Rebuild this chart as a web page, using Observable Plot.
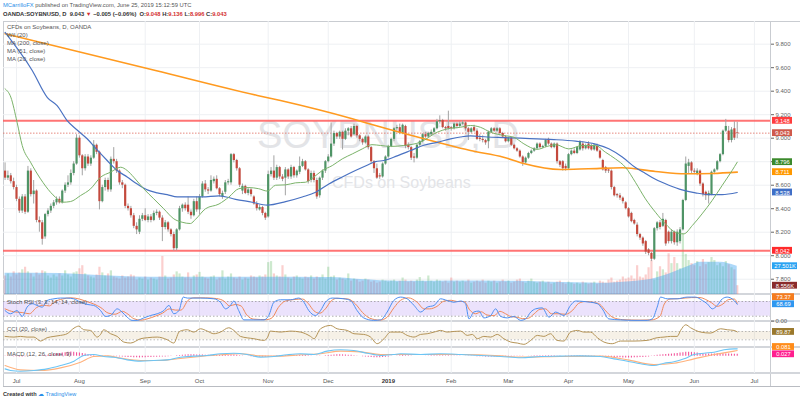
<!DOCTYPE html>
<html><head><meta charset="utf-8">
<script src="https://cdn.jsdelivr.net/npm/d3@7"></script>
<script src="https://cdn.jsdelivr.net/npm/@observablehq/plot@0.6"></script>
<style>
body{margin:0;background:#fff;font-family:"Liberation Sans",Arial,sans-serif;}
#wrap{position:relative;width:800px;height:403px;overflow:hidden;background:#fff;}
</style></head>
<body><div id="wrap"></div>
<script>
// ---------- DATA (bar index 0 = 26 Jun 2018 ... 256 = 25 Jun 2019) ----------
const open = [
8.72,8.66,8.68,8.63,8.58,8.48,8.38,8.50,8.37,8.72,
8.52,8.55,8.30,8.28,8.16,8.35,8.38,8.42,8.45,8.48,
8.45,8.55,8.60,8.62,8.70,8.78,9.00,8.85,8.74,8.84,
8.78,8.83,8.94,8.88,8.46,8.58,8.64,8.56,8.82,8.80,
8.72,8.62,8.60,8.42,8.40,8.34,8.25,8.20,8.31,8.34,
8.30,8.33,8.30,8.36,8.37,8.32,8.24,8.28,8.22,8.18,
8.06,8.22,8.40,8.43,8.43,8.37,8.34,8.46,8.39,8.50,
8.61,8.56,8.55,8.63,8.65,8.57,8.50,8.54,8.62,8.62,
8.86,8.81,8.74,8.55,8.59,8.53,8.56,8.50,8.44,8.39,
8.41,8.36,8.33,8.69,8.72,8.66,8.75,8.67,8.66,8.73,
8.67,8.75,8.68,8.71,8.76,8.80,8.73,8.64,8.70,8.64,
8.51,8.66,8.72,8.80,8.84,8.95,9.04,9.01,9.05,8.99,
9.06,9.08,9.03,9.10,9.02,8.99,8.96,9.01,8.92,8.80,
8.74,8.68,8.67,8.78,8.84,8.93,8.99,9.08,9.09,9.04,
9.10,8.94,8.92,8.84,8.83,8.94,8.97,9.03,9.01,9.03,
9.05,9.08,9.14,9.15,9.09,9.10,9.09,9.08,9.12,9.10,
9.12,9.13,9.08,9.05,9.09,9.06,9.00,8.99,8.98,8.97,
9.05,9.08,9.06,9.08,9.04,9.01,8.97,9.00,8.94,8.91,
8.89,8.84,8.79,8.83,8.87,8.89,8.91,8.95,8.92,8.93,
8.99,8.95,8.92,8.95,8.80,8.80,8.76,8.74,8.86,8.89,
8.87,8.90,8.95,8.91,8.95,8.93,8.90,8.93,8.89,8.81,
8.75,8.73,8.72,8.58,8.52,8.51,8.49,8.45,8.40,8.36,
8.30,8.26,8.18,8.15,8.12,8.05,8.02,7.97,8.23,8.28,
8.25,8.30,8.20,8.12,8.20,8.11,8.12,8.22,8.47,8.76,
8.79,8.72,8.70,8.72,8.61,8.54,8.51,8.52,8.71,8.73,
8.80,8.86,9.06,9.06,8.98,9.08,9.048];
const high = [
8.79,8.72,8.70,8.66,8.60,8.50,8.52,8.52,8.76,8.74,
8.64,8.56,8.33,8.30,8.36,8.40,8.44,8.47,8.50,8.50,
8.56,8.62,8.68,8.73,8.80,9.03,9.02,8.86,8.86,8.86,
8.85,8.98,8.95,8.89,8.60,8.66,8.66,8.84,8.92,8.82,
8.73,8.64,8.61,8.44,8.42,8.36,8.28,8.34,8.36,8.40,
8.35,8.35,8.38,8.39,8.38,8.34,8.30,8.29,8.23,8.20,
8.23,8.42,8.44,8.45,8.50,8.39,8.48,8.50,8.52,8.63,
8.64,8.58,8.68,8.67,8.68,8.58,8.55,8.64,8.65,8.87,
8.87,8.82,8.75,8.61,8.60,8.58,8.57,8.51,8.46,8.43,
8.42,8.37,8.72,8.75,8.85,8.77,8.76,8.69,8.75,8.74,
8.77,8.76,8.73,8.84,8.82,8.81,8.74,8.72,8.72,8.66,
8.67,8.73,8.81,8.86,9.13,9.06,9.05,9.06,9.06,9.08,
9.09,9.10,9.12,9.11,9.03,9.00,9.02,9.02,8.93,8.81,
8.78,8.70,8.79,8.85,8.94,9.00,9.09,9.11,9.12,9.12,
9.11,8.96,8.93,8.87,8.95,8.98,9.04,9.05,9.05,9.07,
9.09,9.16,9.19,9.16,9.10,9.23,9.10,9.13,9.13,9.14,
9.15,9.14,9.09,9.09,9.11,9.08,9.03,9.02,8.99,9.06,
9.09,9.09,9.09,9.09,9.05,9.02,9.01,9.01,8.95,8.92,
8.90,8.85,8.84,8.88,8.90,8.92,8.96,8.96,8.94,8.99,
9.00,8.96,8.96,8.96,8.81,8.81,8.78,8.87,8.90,8.91,
8.93,8.98,8.97,8.95,8.97,8.95,8.95,8.95,8.90,8.82,
8.76,8.74,8.73,8.59,8.53,8.53,8.50,8.46,8.41,8.37,
8.31,8.28,8.19,8.16,8.13,8.06,8.03,8.24,8.29,8.30,
8.36,8.31,8.21,8.22,8.21,8.22,8.24,8.48,8.84,8.82,
8.80,8.74,8.74,8.73,8.62,8.55,8.55,8.72,8.74,8.81,
8.87,9.07,9.16,9.10,9.09,9.14,9.136];
const low = [
8.64,8.64,8.61,8.56,8.46,8.36,8.36,8.35,8.36,8.50,
8.44,8.28,8.20,8.09,8.14,8.33,8.36,8.40,8.43,8.44,
8.44,8.53,8.58,8.60,8.68,8.77,8.83,8.68,8.72,8.76,
8.76,8.82,8.86,8.39,8.45,8.55,8.54,8.54,8.78,8.70,
8.60,8.57,8.40,8.38,8.32,8.23,8.18,8.18,8.29,8.29,
8.28,8.28,8.29,8.34,8.30,8.12,8.22,8.20,8.16,8.04,
8.04,8.21,8.37,8.38,8.35,8.31,8.33,8.37,8.35,8.49,
8.54,8.52,8.54,8.61,8.56,8.50,8.48,8.52,8.60,8.60,
8.79,8.72,8.58,8.52,8.52,8.51,8.50,8.43,8.38,8.38,
8.34,8.30,8.32,8.67,8.64,8.64,8.65,8.63,8.51,8.65,
8.65,8.66,8.66,8.69,8.75,8.72,8.61,8.62,8.62,8.48,
8.49,8.64,8.70,8.79,8.83,8.93,8.99,8.99,8.90,8.98,
9.02,9.00,9.02,9.00,8.97,8.94,8.95,8.90,8.78,8.70,
8.65,8.65,8.66,8.77,8.83,8.92,8.97,9.06,9.03,9.03,
8.91,8.90,8.81,8.79,8.82,8.93,8.96,9.00,9.00,9.02,
9.04,9.07,9.12,9.08,9.06,9.07,9.06,9.07,9.08,9.09,
9.11,9.06,8.98,9.04,9.05,8.98,8.97,8.96,8.94,8.91,
9.04,9.05,9.05,9.02,9.00,8.96,8.96,8.93,8.90,8.88,
8.83,8.76,8.78,8.82,8.86,8.88,8.90,8.91,8.91,8.92,
8.94,8.91,8.91,8.78,8.75,8.72,8.72,8.73,8.85,8.86,
8.86,8.89,8.89,8.90,8.90,8.89,8.89,8.88,8.82,8.72,
8.70,8.70,8.56,8.50,8.49,8.47,8.44,8.39,8.32,8.28,
8.26,8.16,8.13,8.08,8.01,8.00,7.95,7.96,8.21,8.22,
8.24,8.08,8.10,8.10,8.09,8.08,8.10,8.21,8.46,8.70,
8.70,8.69,8.68,8.59,8.50,8.47,8.44,8.51,8.69,8.72,
8.79,8.85,9.05,8.96,8.96,8.98,8.996];
const close = [
8.66,8.68,8.63,8.58,8.48,8.38,8.50,8.37,8.72,8.52,
8.55,8.30,8.28,8.14,8.35,8.38,8.42,8.45,8.48,8.45,
8.55,8.60,8.62,8.70,8.78,9.00,8.85,8.74,8.84,8.78,
8.83,8.94,8.88,8.46,8.58,8.64,8.56,8.82,8.80,8.72,
8.62,8.60,8.42,8.40,8.34,8.25,8.22,8.31,8.34,8.30,
8.33,8.30,8.36,8.37,8.32,8.24,8.28,8.22,8.18,8.06,
8.22,8.40,8.43,8.40,8.37,8.34,8.46,8.39,8.50,8.61,
8.56,8.55,8.64,8.65,8.57,8.52,8.53,8.62,8.63,8.86,
8.81,8.74,8.60,8.59,8.53,8.56,8.52,8.44,8.40,8.41,
8.36,8.32,8.69,8.72,8.66,8.75,8.67,8.65,8.73,8.67,
8.75,8.68,8.72,8.76,8.80,8.73,8.63,8.70,8.64,8.50,
8.66,8.72,8.80,8.84,8.95,9.04,9.01,9.05,8.99,9.06,
9.08,9.01,9.10,9.02,8.99,8.96,9.01,8.92,8.80,8.74,
8.66,8.67,8.78,8.84,8.93,8.99,9.08,9.09,9.04,9.11,
8.93,8.92,8.83,8.83,8.94,8.97,9.03,9.01,9.04,9.05,
9.08,9.14,9.15,9.09,9.08,9.08,9.08,9.12,9.10,9.12,
9.13,9.08,9.05,9.08,9.06,8.99,8.99,8.98,8.96,9.05,
9.08,9.06,9.08,9.04,9.01,8.97,9.00,8.94,8.91,8.89,
8.84,8.79,8.83,8.87,8.89,8.91,8.95,8.92,8.93,8.98,
8.95,8.92,8.95,8.80,8.77,8.74,8.74,8.86,8.89,8.87,
8.92,8.97,8.91,8.93,8.91,8.90,8.94,8.89,8.83,8.73,
8.72,8.72,8.58,8.51,8.51,8.49,8.46,8.40,8.33,8.29,
8.27,8.18,8.15,8.10,8.03,8.02,7.97,8.23,8.28,8.24,
8.31,8.10,8.12,8.20,8.11,8.20,8.22,8.47,8.78,8.79,
8.72,8.71,8.72,8.61,8.52,8.51,8.53,8.71,8.73,8.80,
8.86,9.06,9.10,8.98,9.07,9.00,9.043];
// volume in thousands
const volume = [
18,20,17,22,19,21,24,26.5,22,20,
17,21,19,23,22,18,16,19,17,20,
18,23,19,17,21,22,25,28,20,18,
17,16,19,26.5,21,18,20,23,17,16,
15,18,16,17,19,18,14,16,15,17,
14,16,15,14,17,37,18,15,16,19,
22,20,17,16,21,15,18,19,21.5,17,
16,15,17,18,14,16,23,15,17,20,
16,15,17,14,16,15,18,17,16,18,
17,19,31,32,20,18,17,28,19,16,
15,17,18,16,15,17,16,18,15,17,
16,19,15,26.5,17,18,14,16,15,14,
20,13,15,14,12,13,15,14,12,13,
11,12,14,13,12,13,14,12,13,16,
14,12,13,12,14,16.5,13,12,18,13,
12,14,13,12,13,11,16,12,13,12,
13,12,14,11,12,13,12,14,11,13,
12,13,11,12,14,12,13,11,12,14,
15,12,11,13,15,12,11,12,13,11,
12,10,11,12,13,11,10,12,11,10,
11,10,12,11,10,11,12,10,13,12,
11,14,16,12,13,14,17,15,16,18,
15,28,17,16,19,26,33,14,22,27,
24,21,39.6,30,36,30,25,59,39,33,
30,28,32,27,34,29,31,36,33,28,
30,27,32,29,26,24,8.556];
const macdHist = [
-0.004,-0.006,-0.006,-0.008,-0.008,-0.01,-0.01,-0.008,-0.005,-0.003,-0.002,0,0.002,
0.005,0.01,0.015,0.02,0.03,0.035,0.04,0.045,0.05,0.055,0.06,0.058,0.05,0.045,0.04,0.03,0.02,
0.012,0.006,0,-0.004,-0.006,-0.005,-0.003,0,-0.004,-0.008,-0.01,
-0.012,-0.015,-0.018,-0.02,-0.022,-0.024,-0.025,-0.024,-0.022,-0.02,-0.018,-0.016,-0.015,-0.013,-0.012,-0.01,-0.008,-0.005,
0,0.005,0.01,0.014,0.018,0.02,0.02,0.019,0.018,0.017,0.016,0.015,0.014,0.013,0.012,0.012,0.011,0.01,0.012,0.015,0.018,0.016,
0.012,0.008,0.004,0,-0.004,-0.007,-0.01,-0.012,-0.013,-0.014,-0.015,-0.01,
-0.004,0.002,0.006,0.008,0.01,0.01,0.011,0.012,0.012,0.011,0.01,0.01,0.009,
0.006,0.003,0,-0.003,-0.004,0,0.005,
0.01,0.015,0.018,0.02,0.02,0.019,0.017,0.015,0.012,0.008,
0.003,-0.002,-0.008,-0.012,-0.016,-0.02,-0.022,-0.023,-0.022,-0.02,-0.016,-0.012,-0.006,0,
0.004,0.008,0.01,0.008,0.005,0.002,0,-0.002,-0.002,0,0.002,0.004,0.006,0.007,
0.008,0.008,0.007,0.006,0.005,0.004,0.003,0.002,0.001,0,-0.002,-0.004,-0.005,-0.006,-0.007,
-0.008,-0.009,-0.01,-0.011,-0.011,-0.01,-0.01,-0.009,-0.009,-0.008,-0.008,-0.007,-0.007,-0.006,-0.005,-0.003,0,0.002,0.004,0.005,
0.006,0.007,0.008,0.008,0.008,0.007,0.006,0.004,0.002,0,0.002,0.004,0.006,0.007,0.008,0.008,0.007,0.006,0.005,0.004,
0.002,0,-0.004,-0.008,-0.012,-0.015,-0.018,-0.02,-0.022,-0.024,-0.025,-0.026,-0.026,-0.025,-0.024,-0.022,-0.02,-0.017,-0.014,-0.01,
-0.005,0.005,0.012,0.018,0.022,0.025,0.028,0.03,0.035,0.04,0.045,0.05,0.055,0.058,0.055,0.05,0.045,0.04,0.036,0.032,
0.03,0.03,0.032,0.034,0.035,0.034,0.032,0.03,0.029,0.028,0.027];

// moving averages and indicator lines: [bar index, value]
const ma200 = [[0,9.889],[52.6,9.576],[88.2,9.364],[96.3,9.32],[121.4,9.165],[129.5,9.108],[151.1,8.966],[162.7,8.895],[174.3,8.838],[181.3,8.785],[194.2,8.734],[204,8.74],[215.9,8.748],[227.4,8.717],[237.9,8.697],[247.4,8.700],[256,8.711]];
const ma51 = [[0,9.90],[9.5,9.576],[14.8,9.346],[18.2,9.277],[21.7,9.15],[25.2,9.07],[28.7,8.995],[32.2,8.90],[35.7,8.81],[39.2,8.725],[42.7,8.67],[46.2,8.61],[49.7,8.56],[53.2,8.535],[56.7,8.52],[60.2,8.50],[64.8,8.50],[68.9,8.50],[74.8,8.51],[80.6,8.48],[86.4,8.455],[91.7,8.43],[98.1,8.46],[103.9,8.50],[108.6,8.54],[113.2,8.61],[117.9,8.67],[122.5,8.725],[126.6,8.77],[129.5,8.80],[132.4,8.81],[137.1,8.85],[141.8,8.895],[146.4,8.94],[151.1,8.965],[155.8,8.994],[159.2,9.01],[162.7,9.02],[168.6,9.01],[174.4,9.005],[180.2,9.0],[186,8.994],[191.9,8.988],[199.5,8.975],[206.4,8.95],[211.1,8.91],[215.8,8.84],[220.4,8.75],[223.9,8.70],[227.4,8.65],[232.1,8.60],[236.7,8.56],[241.4,8.535],[246,8.52],[250.7,8.52],[256,8.538]];
const ma20 = [[0,9.42],[2,9.35],[4.2,9.136],[6,8.938],[8.9,8.796],[12.4,8.654],[15.9,8.54],[17.6,8.498],[20,8.455],[22.9,8.461],[26.4,8.512],[29.9,8.569],[33.4,8.668],[36.9,8.711],[40.4,8.753],[42.7,8.725],[45,8.668],[48.5,8.569],[52,8.484],[55.5,8.399],[59,8.314],[61.9,8.285],[64.8,8.274],[66.6,8.31],[70.1,8.40],[74.8,8.44],[78.3,8.50],[81.7,8.57],[85.2,8.58],[88.7,8.57],[91.7,8.55],[94.6,8.60],[98.1,8.603],[101.5,8.62],[105,8.625],[107.9,8.668],[110.9,8.725],[114.4,8.767],[117.9,8.824],[121.4,8.866],[124.9,8.909],[128.3,8.945],[131.3,8.938],[134.8,8.93],[139.4,8.938],[145.2,8.966],[151.1,9.051],[154.6,9.079],[159.2,9.093],[162.7,9.108],[166.2,9.093],[169.7,9.051],[174.4,9.023],[177.9,9.008],[181.4,8.952],[186,8.905],[189.5,8.93],[192.5,8.945],[197.1,8.909],[201.8,8.938],[206.4,8.938],[209.9,8.881],[213.4,8.824],[216.9,8.753],[220.4,8.625],[223.9,8.484],[227.4,8.37],[230.9,8.271],[234.4,8.199],[237.3,8.186],[240.3,8.257],[243.7,8.356],[247.2,8.469],[250.7,8.597],[254.2,8.725],[256,8.796]];
const volMA = [[0,20.7],[19.4,20.5],[26.4,19.4],[50.9,16.8],[85.8,16.8],[113.8,16.6],[124.3,14.6],[138.3,12.9],[155.8,13.2],[180.2,12.9],[190.7,11.8],[208.2,11],[218.7,12.5],[225.7,14.6],[232.7,20.4],[239.7,28.1],[243.2,31.3],[250.2,31.3],[255.4,28],[256,27.501]];
const stochK = [[0,43],[1.9,30],[4.2,43],[6,19],[7.7,57],[9.5,71],[11.2,64],[13,57],[14.7,84],[17.1,91],[19.4,94],[21.7,94],[24,91],[26.4,77],[28.7,68],[31,64],[33.4,43],[35.1,19],[36.9,23],[39.2,50],[40.9,37],[42.7,16],[44.4,3],[46.2,3],[48.5,13],[50.9,23],[53.2,30],[55.5,43],[57.3,64],[59,30],[60.8,43],[62.3,98],[63.7,94],[68.3,94],[73,91],[75.3,77],[77.1,50],[78.8,64],[80,82],[81.7,43],[83.5,5],[87,5],[90.5,5],[92.2,23],[94,77],[96.3,87],[99.8,87],[102.7,94],[104.5,77],[106.2,43],[108.5,23],[110.3,43],[112,77],[114.4,94],[118.5,91],[120.8,84],[123.1,43],[125.4,13],[128.9,3],[131.3,5],[133.6,37],[135.9,84],[138.3,98],[140.6,91],[143,64],[145.3,37],[147.6,57],[150,64],[152.3,91],[154.6,84],[157,77],[159.3,82],[161,71],[162.2,9],[163.9,37],[165.7,41],[167.4,13],[169.8,23],[171.5,50],[173.3,19],[175.6,13],[177.9,19],[180.3,3],[182,9],[183.8,37],[185.5,50],[187.8,54],[190.2,16],[192.5,37],[195.4,23],[197.7,64],[199.5,82],[202.4,80],[204.7,77],[207.1,71],[208.8,50],[211.1,9],[215.2,5],[219.9,3],[224.5,3],[226.3,9],[228,57],[229.2,98],[231.5,91],[235,91],[238.5,98],[241.4,98],[243.8,84],[245.5,71],[247.3,50],[249,64],[250.8,91],[252.5,98],[254.9,84],[256,68.69]];
const stochD = [[0,50],[3,38],[6,35],[8.5,30],[11,55],[13.5,65],[15.5,62],[17.5,80],[20,90],[23,95],[26,90],[28.5,80],[31,70],[33.5,55],[36,33],[38.5,28],[41,40],[43,28],[45,10],[47.5,4],[50,10],[52.5,20],[55,32],[57.5,50],[59.5,45],[61.5,45],[64,85],[66,95],[70,95],[74,92],[76.5,82],[78.5,62],[80.5,68],[82.5,62],[84.5,25],[87,8],[91.5,6],[93.5,15],[95.5,55],[98,82],[101,88],[104,90],[106,72],[108,42],[110,32],[112,50],[114,82],[116,93],[120,90],[122.5,70],[125,35],[127.5,12],[131,4],[133.5,15],[136,55],[138.3,85],[141,95],[144,78],[146.5,50],[148.5,50],[151,60],[153.5,82],[156,85],[158,80],[160.5,80],[162.5,45],[164.5,30],[166.5,38],[168.5,25],[171,22],[173,40],[175,30],[177,18],[179,16],[181,10],[183,12],[185,30],[187,48],[189,50],[191,30],[193.5,30],[196,28],[198.5,45],[200.5,72],[203,80],[206,76],[208,68],[210,42],[212.5,15],[216,6],[222,4],[226,5],[229,20],[230.5,70],[232.5,90],[236,92],[240,96],[243,96],[245,88],[247,75],[249,60],[251,70],[253,88],[255,90],[256,73.37]];
const cci = [[0,-18],[3.1,-34],[5.4,-18],[7.7,-34],[10.1,-34],[12.4,-130],[14.7,-50],[17.1,-18],[19.4,6],[21.7,46],[24.1,182],[25.8,230],[27.5,142],[29.9,126],[32.2,-34],[33.4,30],[34.5,142],[36.9,46],[39.2,-18],[41.5,-154],[43.9,-178],[47.4,-74],[49.7,-50],[53.2,-34],[56.7,-98],[59,-178],[60.8,86],[61.9,126],[63.7,142],[66,86],[68.3,166],[70.7,110],[73,46],[75.3,86],[78.2,190],[80,126],[82.3,-18],[87,-74],[90.5,-114],[91.7,-50],[92.8,110],[96.3,86],[99.8,110],[103.3,86],[106.8,-18],[108,-74],[110.3,166],[113.8,246],[116.1,166],[119.6,126],[122,46],[125.4,30],[127.8,-34],[130.1,-194],[132.5,-74],[134.8,86],[138.3,86],[140.6,6],[143,-34],[145.3,30],[147.6,46],[150,86],[152.3,126],[154.6,86],[157,102],[159.3,110],[161.6,6],[163.4,30],[165.1,-74],[167.4,-18],[169.8,-34],[172.1,30],[174.4,-74],[176.8,-154],[179.1,-178],[181.4,-210],[183.8,-114],[186.1,6],[188.4,-18],[190.7,46],[193,-114],[195.4,-130],[197.7,86],[200.1,126],[202.4,86],[204.7,86],[207.1,-50],[209.4,-154],[212.3,-194],[215.2,-130],[219.9,-130],[224.5,-114],[228,-50],[230.4,-34],[232.7,-18],[235,-18],[236.2,126],[238,262],[239.7,190],[243.2,86],[246.7,62],[250.2,166],[252.5,142],[254.9,126],[256,89.87]];
const macdLine = [[0,-0.181],[1.9,-0.204],[5.4,-0.214],[10.1,-0.204],[14.7,-0.181],[19.4,-0.133],[24.1,-0.071],[27.5,0.010],[31,0.024],[34.5,-0.004],[38.1,-0.014],[42.7,-0.052],[47.4,-0.071],[52,-0.061],[56.7,-0.052],[61.3,-0.014],[66,0.0005],[70.7,0.010],[75.3,0.034],[80,0.043],[84.7,0.024],[89.3,-0.014],[94,-0.004],[98.6,0.020],[103.3,0.034],[108,0.024],[112.6,0.072],[117.3,0.091],[121.9,0.081],[126.6,0.043],[131.3,0.010],[135.9,0.024],[138.3,0.034],[145.3,0.024],[152.3,0.034],[159.3,0.024],[166.3,0.010],[173.3,-0.004],[180.3,-0.023],[187.3,-0.004],[194.2,0.0005],[201.2,0.005],[208.2,-0.004],[212.9,-0.038],[217.6,-0.071],[222.2,-0.109],[226.9,-0.133],[230.4,-0.100],[233.9,-0.080],[237.4,-0.038],[240.9,0.024],[244.4,0.043],[247.9,0.057],[251.4,0.091],[254.9,0.105],[256,0.105]];
const macdSignal = [[0,-0.133],[5.4,-0.195],[12.4,-0.204],[19.4,-0.167],[26.4,-0.085],[31,-0.004],[35.7,0.005],[40.4,-0.028],[47.4,-0.061],[54.4,-0.061],[61.3,-0.033],[68.3,-0.004],[75.3,0.020],[82.3,0.034],[89.3,0.005],[96.3,0.0005],[103.3,0.020],[110.3,0.034],[117.3,0.072],[124.3,0.062],[131.3,0.024],[138.3,0.024],[145.3,0.024],[159.3,0.024],[173.3,0.005],[180.3,-0.014],[194.2,-0.004],[208.2,0.0005],[217.6,-0.052],[226.9,-0.119],[233.9,-0.100],[240.9,-0.038],[247.9,0.024],[254.9,0.072],[256,0.081]];

const levelLines = [9.148, 8.042];
const lastPrice = 9.043;
const priceTicks = [7.8,8.0,8.2,8.4,8.6,8.8,9.0,9.2,9.4,9.6,9.8];
const monthIdx = [4,26,49,68,92,113,134,156,176,197,218,241,262];
const monthLabel = ["Jul","Aug","Sep","Oct","Nov","Dec","2019","Feb","Mar","Apr","May","Jun","Jul"];

const priceLabels = [
  {v:9.148, t:"9.148", fill:"#ff3d3d"},
  {v:9.043, t:"9.043", fill:"#cf5a4c"},
  {v:8.796, t:"8.796", fill:"#3b8a2c"},
  {v:8.711, t:"8.711", fill:"#ff9800"},
  {v:8.538, t:"8.538", fill:"#3f6fc7"},
  {v:8.042, t:"8.042", fill:"#ff2b2b"}];
const volLabels = [{v:27.501, t:"27.501K", fill:"#2aa3f2"},{v:8.556, t:"8.556K", fill:"#8a2b2b"}];
const stochLabels = [{v:73.37, t:"73.37", fill:"#f57c1f", dy:-6},{v:68.69, t:"68.69", fill:"#2f97f0"}];
const cciLabels = [{v:89.87, t:"89.87", fill:"#9a782c"}];
const macdLabels = [{v:0.081, t:"0.081", fill:"#ff8c1a", dy:-3.5},{v:0.027, t:"0.027", fill:"#ff1f8f"}];

// ---------- BUILD ----------
const wrap = document.getElementById("wrap");
const bars = close.map((c,i)=>({i, o:open[i], h:high[i], l:low[i], c, v:volume[i], hist:macdHist[i]}));
const XD = [-0.545, 267.63];
const UP = "#4f9466", DN = "#c4493d", GRID = "#eef0f3";
const FONT = "Liberation Sans, Arial, sans-serif";
const P = () => ({x:d=>d[0], y:d=>d[1]});

function div(html, css){const d=document.createElement("div");d.innerHTML=html;d.style.cssText="position:absolute;white-space:nowrap;"+css;wrap.appendChild(d);return d;}
function place(el, top, left){el.style.position="absolute";el.style.top=top+"px";el.style.left=(left||0)+"px";wrap.appendChild(el);}
function pane(top, height, yd, marks, extra){
  extra = extra||{};
  const el = Plot.plot({width:800, height, marginLeft:3, marginRight:30, marginTop:extra.mt||0, marginBottom:extra.mb||0,
    x:{domain:XD, axis:null}, y:{domain:yd, axis:null},
    style:{background:"transparent", overflow:"visible", fontFamily:FONT}, marks});
  place(el, top, 0); return el;
}
function labelPane(top, height, yd, labels, mr){
  const marks=[];
  for(const l of labels){
    marks.push(Plot.rect([l],{y1:"v",y2:"v",insetTop:-3.4,insetBottom:-3.4,fill:l.fill,dy:l.dy||0}));
    marks.push(Plot.text([l],{y:"v",text:"t",fill:"#fff",fontSize:5.8,dy:(l.dy||0)+0.3}));
  }
  const el = Plot.plot({width:30,height,marginLeft:2,marginRight:mr,marginTop:0,marginBottom:0,
    x:{domain:[0,1],axis:null}, y:{domain:yd,axis:null},
    style:{background:"transparent",overflow:"visible",fontFamily:FONT}, marks});
  place(el, top, 770);
}
const rightAxis = (ticks, fmt) => Plot.axisY(ticks,{anchor:"right",tickSize:3,tickPadding:2,tickFormat:fmt,fontSize:6,color:"#666"});

// domains
const priceD = [7.670, 9.993];
const volD = [0, 265.4];
const stochD_ = [-1.6, 108.6];
const cciD = [-285.5, 341];
const macdD = [-0.247, 0.124];

// frame lines
div("","left:3px;top:21px;width:797px;height:1px;background:#c9ccd1");
div("","left:3px;top:21px;width:1px;height:365px;background:#c9ccd1");
div("","left:770px;top:21px;width:1px;height:365px;background:#c9ccd1");
for(const y of [293,320,346,372]) div("","left:3px;top:"+y+"px;width:797px;height:2px;background:#d3d6db");
div("","left:3px;top:386px;width:797px;height:1px;background:#b9bcc2");

// grid layer (main pane)
pane(21, 273, priceD, [
  Plot.ruleY(priceTicks,{stroke:GRID}),
  Plot.ruleX(monthIdx,{stroke:GRID})
]);
// watermark
div("SOYBNUSD, D","left:257px;top:115.8px;font-size:38px;line-height:38px;color:#e3e4e7;");
div("CFDs on Soybeans","left:332px;top:174.5px;font-size:16px;line-height:16px;color:#e3e4e7;");

// volume overlay
pane(21, 273, volD, [
  Plot.ruleX(bars.filter(d=>d.c>=d.o),{x:"i",y1:0,y2:"v",stroke:"#4caf50",strokeOpacity:0.28,strokeWidth:2.2}),
  Plot.ruleX(bars.filter(d=>d.c<d.o),{x:"i",y1:0,y2:"v",stroke:"#ef5350",strokeOpacity:0.28,strokeWidth:2.2}),
  Plot.areaY(volMA,{x:d=>d[0],y:d=>d[1],fill:"#3ba2f0",fillOpacity:0.42,curve:"monotone-x"})
]);

// main price pane
pane(21, 273, priceD, [
  Plot.ruleY(levelLines,{stroke:"#ff5c5c",strokeWidth:2,strokeOpacity:0.85}),
  Plot.ruleY([lastPrice],{stroke:"#e06a5e",strokeDasharray:"1.5,1.5",strokeWidth:0.8}),
  Plot.ruleX(bars,{x:"i",y1:"l",y2:"h",stroke:"#a3a3a3",strokeWidth:1}),
  Plot.ruleX(bars.filter(d=>d.c>=d.o),{x:"i",y1:"o",y2:"c",stroke:UP,strokeWidth:2.2}),
  Plot.ruleX(bars.filter(d=>d.c<d.o),{x:"i",y1:"o",y2:"c",stroke:DN,strokeWidth:2.2}),
  Plot.line(ma200,{...P(),stroke:"#ff9a1f",strokeWidth:1.6,curve:"monotone-x"}),
  Plot.line(ma51,{...P(),stroke:"#4a72c2",strokeWidth:1.2,curve:"monotone-x"}),
  Plot.line(ma20,{...P(),stroke:"#7bb36a",strokeWidth:1,curve:"monotone-x"}),
  rightAxis(priceTicks, d3.format(".3f"))
]);

// stoch RSI pane
pane(294, 27, stochD_, [
  Plot.ruleX(monthIdx,{stroke:GRID}),
  Plot.rect([{a:20,b:80}],{y1:"a",y2:"b",fill:"#9b6cf2",fillOpacity:0.2}),
  Plot.ruleY([20,80],{stroke:"#9a9a9a",strokeDasharray:"1.5,2",strokeWidth:0.8}),
  Plot.line(stochD,{...P(),stroke:"#f0895a",strokeWidth:1,curve:"monotone-x"}),
  Plot.line(stochK,{...P(),stroke:"#4b8ef2",strokeWidth:1,curve:"monotone-x"}),
  rightAxis([0], d3.format(".2f"))
]);
// CCI pane
pane(321, 26, cciD, [
  Plot.ruleX(monthIdx,{stroke:GRID}),
  Plot.rect([{a:-100,b:100}],{y1:"a",y2:"b",fill:"#c9a66b",fillOpacity:0.16}),
  Plot.ruleY([-100,100],{stroke:"#a8a8a8",strokeDasharray:"1.5,2",strokeWidth:0.8}),
  Plot.line(cci,{...P(),stroke:"#b59457",strokeWidth:1,curve:"monotone-x"})
]);
// MACD pane
pane(347, 26, macdD, [
  Plot.ruleX(monthIdx,{stroke:GRID}),
  Plot.ruleX(bars,{x:"i",y1:0,y2:"hist",stroke:"#f2549a",strokeWidth:1.1}),
  Plot.line(macdSignal,{...P(),stroke:"#ffb27d",strokeWidth:1.1,curve:"monotone-x"}),
  Plot.line(macdLine,{...P(),stroke:"#6cc5f5",strokeWidth:1.1,curve:"monotone-x"})
]);
// time axis
const months = monthIdx.map((i,k)=>({i,label:monthLabel[k]}));
pane(373, 13, [0,1], [
  Plot.text(months.filter(d=>d.label!=="2019"),{x:"i",text:"label",fontSize:6,fill:"#555",frameAnchor:"middle"}),
  Plot.text(months.filter(d=>d.label==="2019"),{x:"i",text:"label",fontSize:6,fill:"#333",fontWeight:"bold",frameAnchor:"middle"})
], {mt:2});

// right-axis value labels
labelPane(21, 273, priceD, priceLabels, 8);
labelPane(21, 273, volD, volLabels, 3);
labelPane(294, 27, stochD_, stochLabels, 6);
labelPane(321, 26, cciD, cciLabels, 6);
labelPane(347, 26, macdD, macdLabels, 6);

// legends / headers
const lg = "font-size:6px;line-height:7px;color:#555;";
div("CFDs on Soybeans, D, OANDA","left:7px;top:23.5px;"+lg);
div("Wil (20)","left:7px;top:31.5px;"+lg);
div("MA (200, close)","left:7px;top:39.5px;"+lg);
div("MA (51, close)","left:7px;top:47.5px;"+lg);
div("MA (20, close)","left:7px;top:55.5px;"+lg);
div("Stoch RSI (3, 3, 14, 14, close)","left:7px;top:299px;"+lg);
div("CCI (20, close)","left:7px;top:325.5px;"+lg);
div("MACD (12, 26, close, 9)","left:7px;top:350.5px;"+lg);

div('<span style="color:#2a8ee8">MCarrilloFX</span> published on TradingView.com, June 25, 2019 15:12:59 UTC',"left:3px;top:2px;font-size:5.8px;line-height:7px;color:#555;");
const R = s => '<span style="color:#d32f2f">'+s+'</span>';
div('OANDA:SOYBNUSD, D&nbsp; 9.043 '+R('▼')+' −0.005 (−0.06%)&nbsp; O:'+R('9.048')+' H:'+R('9.136')+' L:'+R('8.996')+' C:'+R('9.043'),
  "left:3px;top:10.5px;font-size:5.8px;line-height:7px;color:#333;font-weight:bold;");
div('<b style="color:#333">Created with</b> <span style="color:#2a8ee8">☁ TradingView</span>',"left:3px;top:391px;font-size:5.6px;line-height:7px;");
</script>
</body></html>
